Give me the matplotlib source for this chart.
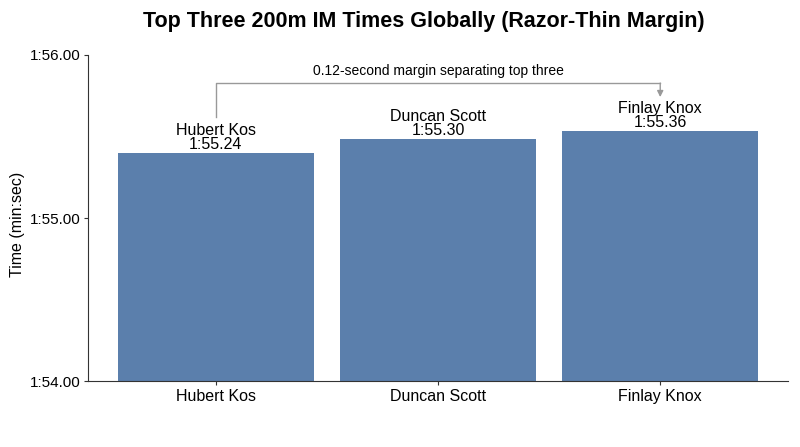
"""
Top three 200m IM times bar chart.
"""

import matplotlib
matplotlib.use("Agg")
import matplotlib.pyplot as plt

plt.rcParams["font.family"] = ["Liberation Sans", "DejaVu Sans"]

# data
swimmers = ["Hubert Kos", "Duncan Scott", "Finlay Knox"]
times_sec = [115.40, 115.485, 115.535]
time_labels = ["1:55.24", "1:55.30", "1:55.36"]
y_ticks = [114, 115, 116]
y_tick_labels = ["1:54.00", "1:55.00", "1:56.00"]

bar_color = "#5b7fac"

fig = plt.figure(figsize=(8, 4.47), dpi=100)
ax = fig.add_axes([0.11, 0.147, 0.875, 0.73])

x = list(range(len(swimmers)))
ax.bar(x, times_sec, width=0.88, color=bar_color, zorder=2)

for xi, t, name, lab in zip(x, times_sec, swimmers, time_labels):
    ax.text(xi, t + 0.005, name + "\n" + lab, ha="center", va="bottom",
            fontsize=11.5, linespacing=0.95)

ax.set_xlim(-0.575, 2.575)
ax.set_ylim(114, 116)
ax.set_xticks(x)
ax.set_xticklabels(swimmers, fontsize=11.5)
ax.set_yticks(y_ticks)
ax.set_yticklabels(y_tick_labels, fontsize=11)
ax.set_ylabel("Time (min:sec)", fontsize=11.5)
ax.yaxis.set_label_coords(-0.09, 0.48)
ax.tick_params(length=3, pad=2.5, color="#333333")

for side in ["top", "right"]:
    ax.spines[side].set_visible(False)
for side in ["left", "bottom"]:
    ax.spines[side].set_color("#333333")

# bracket from fastest to third place
gray = "#999999"
top_y = 115.828
ax.plot([x[0], x[0], x[2]], [115.62, top_y, top_y],
        color=gray, lw=1.0, clip_on=False)
ax.annotate("", xy=(x[2], 115.742), xytext=(x[2], top_y),
            arrowprops=dict(arrowstyle="-|>", color=gray, lw=1.0,
                            mutation_scale=9, shrinkA=0, shrinkB=0))
ax.text((x[0] + x[2]) / 2, top_y + 0.03, "0.12-second margin separating top three",
        ha="center", va="bottom", fontsize=10)

fig.text(0.53, 0.953, "Top Three 200m IM Times Globally (Razor-Thin Margin)",
         ha="center", va="center", fontsize=15.5, fontweight="bold")

fig.savefig("out.png", dpi=100)
